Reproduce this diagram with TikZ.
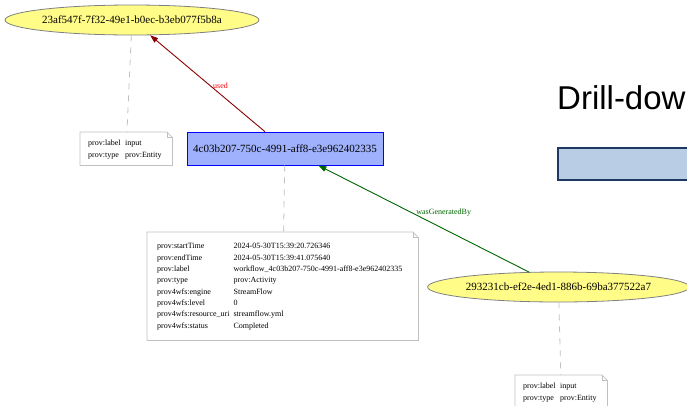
\documentclass[tikz,border=0pt]{standalone}
\usepackage{fontspec}
\setmainfont{Liberation Serif}
\newfontfamily\headfont{Liberation Sans}
\usetikzlibrary{arrows.meta,shapes.geometric}

% PROV graph colours
\definecolor{entfill}{HTML}{FFFC87}
\definecolor{entline}{HTML}{808080}
\definecolor{actfill}{HTML}{9FB1FC}
\definecolor{actline}{HTML}{0000FF}
\definecolor{annline}{HTML}{C0C0C0}
\definecolor{usedline}{HTML}{8B0000}
\definecolor{genline}{HTML}{006400}
\definecolor{barfill}{HTML}{B9CDE5}
\definecolor{barline}{HTML}{1F3864}

\tikzset{
  entity/.style={ellipse, draw=entline, fill=entfill, line width=0.8pt,
    minimum width=254pt, minimum height=30pt, inner sep=0pt,
    font=\fontsize{11}{13}\selectfont},
  activity/.style={rectangle, draw=actline, fill=actfill, line width=0.8pt,
    minimum width=196pt, minimum height=33pt, inner sep=0pt,
    font=\fontsize{11}{13}\selectfont},
  annot/.style={rectangle, anchor=north west, inner ysep=0pt, align=left},
  notebd/.style={draw=annline, line width=0.8pt},
  annlink/.style={draw=annline, line width=0.8pt, dash pattern=on 6pt off 6pt},
  usededge/.style={draw=usedline, line width=0.9pt,
    -{Triangle[length=8pt,width=5.5pt]}},
  genedge/.style={draw=genline, line width=0.9pt,
    -{Triangle[length=8pt,width=5.5pt]}},
  edgelbl/.style={font=\fontsize{8}{9}\selectfont, inner sep=0pt},
}

% outline of a note with a folded top-right corner
\newcommand\foldnote[1]{%
  \draw[notebd] (#1.south west) -- (#1.north west) -- ([xshift=-5.5pt]#1.north east)
    -- ([yshift=-5.5pt]#1.north east) -- (#1.south east) -- cycle;
  \draw[notebd] ([xshift=-5.5pt]#1.north east)
    -- ([xshift=-5.5pt,yshift=-5.5pt]#1.north east) -- ([yshift=-5.5pt]#1.north east);
}

\begin{document}
\begin{tikzpicture}[x=1pt, y=-1pt]
\useasboundingbox (0,0) rectangle (687,405);
\clip (0,0) rectangle (687,405);

% nodes
\node[entity] (e1) at (132,20) {23af547f-7f32-49e1-b0ec-b3eb077f5b8a};
\node[activity] (act) at (285,148.5) {4c03b207-750c-4991-aff8-e3e962402335};
\node[entity] (e2) at (558.5,287) {293231cb-ef2e-4ed1-886b-69ba377522a7};

% annotations
\node[annot, inner xsep=8pt, text width=76pt, minimum height=33pt] (n1) at (80,132)
  {\fontsize{8}{12}\selectfont
   \begin{tabular}{@{}l@{\hspace{4.5pt}}l@{}}
   prov:label & input\\
   prov:type & prov:Entity
   \end{tabular}};
\node[annot, inner xsep=10pt, text width=251pt, minimum height=108pt] (n2) at (147,232)
  {\fontsize{8}{11.33}\selectfont
   \begin{tabular}{@{}l@{\hspace{4pt}}l@{}}
   prov:startTime & 2024-05-30T15:39:20.726346\\
   prov:endTime & 2024-05-30T15:39:41.075640\\
   prov:label & workflow\_4c03b207-750c-4991-aff8-e3e962402335\\
   prov:type & prov:Activity\\
   prov4wfs:engine & StreamFlow\\
   prov4wfs:level & 0\\
   prov4wfs:resource\_uri & streamflow.yml\\
   prov4wfs:status & Completed
   \end{tabular}};
\node[annot, inner xsep=8pt, text width=76pt, minimum height=33pt] (n3) at (515,375)
  {\fontsize{8}{12}\selectfont
   \begin{tabular}{@{}l@{\hspace{4.5pt}}l@{}}
   prov:label & input\\
   prov:type & prov:Entity
   \end{tabular}};

% annotation links
\draw[annlink] (e1) -- (n1);
\draw[annlink] (act) -- (n2);
\draw[annlink] (e2) -- (n3);
\foldnote{n1}
\foldnote{n2}
\foldnote{n3}

% relations
\draw[usededge] (act) -- node[edgelbl, text=red, pos=0.5, xshift=13pt, yshift=-2pt] {used} (e1);
\draw[genedge] (e2) -- node[edgelbl, text=genline, pos=0.4, xshift=-1pt, yshift=17pt] {wasGeneratedBy} (act);

% heading and bar on the right
\node[anchor=base west, inner sep=0pt, font=\headfont\fontsize{33}{36}\selectfont] (drill) at (557,109) {Drill-dow};
\node[draw=barline, fill=barfill, line width=2pt, minimum width=150pt, minimum height=32pt,
  inner sep=0pt, anchor=north west] (bar) at (556.5,146.5) {};
\end{tikzpicture}
\end{document}
